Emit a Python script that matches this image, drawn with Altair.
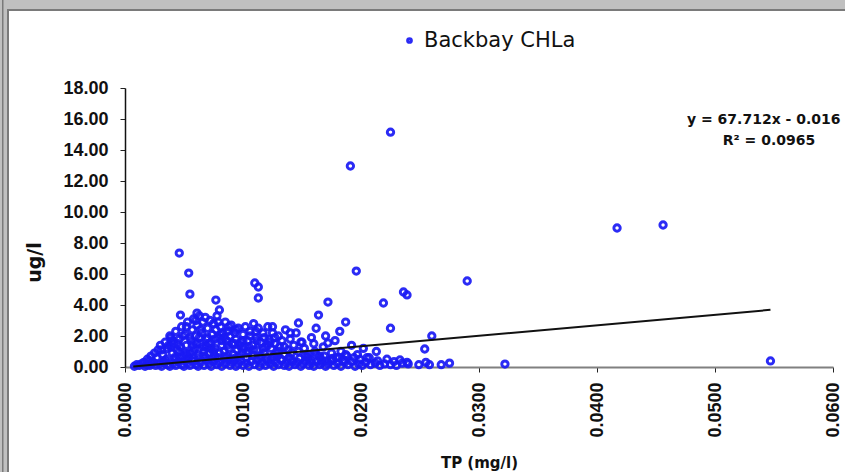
import altair as alt
import pandas as pd

series_name = "Backbay CHLa"

# Low readings lying along the x axis (TP mg/l, CHLa ug/l)
tp_band = [0.0008, 0.0010, 0.0012, 0.0014, 0.0017, 0.0019, 0.0021, 0.0023, 0.0026, 0.0029,
           0.0031, 0.0033, 0.0036, 0.0038, 0.0041, 0.0043, 0.0045, 0.0048, 0.0050, 0.0053,
           0.0055, 0.0057, 0.0060, 0.0062, 0.0064, 0.0067, 0.0069, 0.0071, 0.0073, 0.0075,
           0.0078, 0.0080, 0.0082, 0.0085, 0.0087, 0.0089, 0.0091, 0.0094, 0.0096, 0.0098,
           0.0100, 0.0103, 0.0105, 0.0107, 0.0110, 0.0112, 0.0114, 0.0116, 0.0119, 0.0121,
           0.0123, 0.0126, 0.0128, 0.0130, 0.0133, 0.0135, 0.0137, 0.0139, 0.0142, 0.0144,
           0.0146, 0.0149, 0.0151, 0.0153, 0.0156, 0.0158, 0.0160, 0.0163, 0.0165, 0.0167,
           0.0170, 0.0172, 0.0175, 0.0177, 0.0180, 0.0183, 0.0186, 0.0189, 0.0192, 0.0195,
           0.0198, 0.0201, 0.0204, 0.0208, 0.0212, 0.0216, 0.0220, 0.0225, 0.0230,
           0.0235, 0.0239, 0.0240, 0.0249, 0.0255, 0.0258, 0.0268, 0.0275, 0.0322,
           0.0155, 0.0162, 0.0169, 0.0179, 0.0187, 0.0194, 0.0199, 0.0207, 0.0214, 0.0222,
           0.0228, 0.0233]
chla_band = [0.05, 0.15, 0.10, 0.20, 0.05, 0.15, 0.10, 0.25, 0.10, 0.20,
             0.05, 0.30, 0.15, 0.05, 0.25, 0.10, 0.35, 0.15, 0.05, 0.25,
             0.10, 0.40, 0.15, 0.05, 0.30, 0.10, 0.45, 0.20, 0.05, 0.35,
             0.15, 0.30, 0.05, 0.20, 0.45, 0.10, 0.30, 0.05, 0.20, 0.40,
             0.10, 0.25, 0.05, 0.35, 0.15, 0.45, 0.05, 0.25, 0.10, 0.40,
             0.20, 0.05, 0.30, 0.15, 0.45, 0.10, 0.25, 0.05, 0.35, 0.15,
             0.30, 0.05, 0.20, 0.40, 0.10, 0.25, 0.05, 0.35, 0.15, 0.30,
             0.05, 0.20, 0.40, 0.10, 0.25, 0.05, 0.30, 0.15, 0.35, 0.05,
             0.20, 0.10, 0.30, 0.15, 0.25, 0.10, 0.20, 0.15, 0.10,
             0.25, 0.30, 0.20, 0.15, 0.30, 0.15, 0.15, 0.25, 0.19,
             0.60, 0.80, 0.70, 0.60, 0.80, 0.60, 0.50, 0.60, 0.40, 0.50,
             0.35, 0.45]

# Main cloud of moderate readings
tp_cloud = [0.0016, 0.0019, 0.0022, 0.0025, 0.0028, 0.0021, 0.0030, 0.0027, 0.0024,
            0.0032, 0.0034, 0.0036, 0.0038, 0.0040, 0.0041, 0.0043, 0.0044, 0.0046, 0.0048,
            0.0049, 0.0035, 0.0042, 0.0047, 0.0039,
            0.0051, 0.0052, 0.0053, 0.0055, 0.0056, 0.0057, 0.0058, 0.0059, 0.0060, 0.0061,
            0.0062, 0.0063, 0.0064, 0.0065, 0.0066, 0.0067, 0.0068, 0.0069, 0.0054, 0.0058,
            0.0063, 0.0066, 0.0052, 0.0060,
            0.0070, 0.0071, 0.0072, 0.0073, 0.0074, 0.0075, 0.0076, 0.0077, 0.0078, 0.0079,
            0.0080, 0.0081, 0.0082, 0.0083, 0.0084, 0.0085, 0.0086, 0.0087, 0.0088, 0.0089,
            0.0071, 0.0076, 0.0084,
            0.0090, 0.0091, 0.0092, 0.0093, 0.0094, 0.0095, 0.0096, 0.0098, 0.0099, 0.0100,
            0.0101, 0.0102, 0.0104, 0.0105, 0.0106, 0.0108, 0.0109, 0.0111, 0.0112, 0.0113,
            0.0115, 0.0117, 0.0118, 0.0119,
            0.0121, 0.0122, 0.0124, 0.0125, 0.0127, 0.0128, 0.0130, 0.0131, 0.0133, 0.0135,
            0.0136, 0.0138, 0.0140, 0.0141, 0.0143, 0.0145, 0.0147, 0.0149,
            0.0152, 0.0155, 0.0158, 0.0161, 0.0165, 0.0168, 0.0170, 0.0175, 0.0178, 0.0183,
            0.0188, 0.0192, 0.0197, 0.0205, 0.0213,
            0.0046, 0.0052, 0.0068, 0.0074, 0.0079, 0.0086, 0.0093, 0.0097, 0.0103, 0.0108,
            0.0114, 0.0120, 0.0126, 0.0132, 0.0139, 0.0148, 0.0157, 0.0166, 0.0176, 0.0185]
chla_cloud = [0.3, 0.5, 0.7, 0.9, 1.1, 0.4, 1.4, 0.6, 0.3,
              0.8, 1.6, 1.2, 2.0, 0.9, 1.5, 2.3, 1.1, 1.8, 2.6,
              0.7, 0.5, 0.6, 1.3, 1.9,
              2.1, 1.4, 2.9, 0.9, 1.7, 2.4, 3.1, 1.2, 2.0, 2.7,
              0.8, 3.3, 1.5, 2.2, 2.9, 1.0, 3.2, 1.8, 0.6, 1.0,
              0.6, 1.3, 2.6, 3.0,
              2.5, 0.9, 3.0, 1.6, 2.1, 2.8, 1.2, 2.4, 3.3, 1.9,
              0.9, 2.6, 1.4, 2.2, 1.0, 2.9, 1.7, 2.3, 1.2, 2.0,
              1.5, 0.7, 1.9,
              2.7, 1.5, 0.8, 2.2, 1.8, 1.1, 2.5, 1.6, 0.9, 2.1,
              1.3, 2.6, 1.7, 1.0, 2.3, 1.4, 2.8, 1.9, 1.1, 2.5,
              1.6, 2.2, 0.9, 1.3,
              2.6, 1.8, 1.2, 2.2, 1.5, 0.9, 2.0, 1.3, 1.7, 0.8,
              2.4, 1.1, 1.8, 0.9, 1.4, 2.2, 1.0, 1.6,
              1.2, 0.8, 1.9, 1.0, 0.7, 1.3, 2.0, 0.9, 1.7, 1.0,
              0.7, 1.4, 0.8, 0.6, 1.0,
              0.6, 0.45, 0.65, 0.55, 0.6, 0.7, 0.55, 0.65, 0.6, 0.75,
              0.55, 0.6, 0.7, 0.5, 0.6, 0.55, 0.45, 0.5, 0.55, 0.45]

# Further readings filling the core of the cloud
tp_core = [0.0031, 0.0034, 0.0037, 0.0040, 0.0043, 0.0046, 0.0049, 0.0052, 0.0055, 0.0058,
           0.0061, 0.0064, 0.0067, 0.0070, 0.0073, 0.0076, 0.0079, 0.0082, 0.0085, 0.0088,
           0.0091, 0.0094, 0.0097, 0.0100, 0.0103, 0.0106, 0.0109, 0.0112, 0.0115, 0.0118,
           0.0121, 0.0124, 0.0127, 0.0130,
           0.0033, 0.0039, 0.0045, 0.0051, 0.0057, 0.0063, 0.0069, 0.0075, 0.0081, 0.0087,
           0.0093, 0.0099, 0.0105, 0.0111, 0.0117, 0.0123, 0.0129, 0.0135, 0.0141, 0.0153,
           0.0160, 0.0171, 0.0181]
chla_core = [1.1, 0.4, 1.4, 1.7, 0.5, 1.0, 2.0, 0.8, 1.9, 0.4,
             1.5, 2.4, 0.7, 1.9, 1.2, 1.8, 2.9, 1.7, 0.6, 2.6,
             0.5, 2.4, 1.4, 1.7, 0.9, 2.0, 1.1, 1.7, 0.7, 1.9,
             1.4, 0.5, 1.9, 1.0,
             0.3, 1.3, 1.5, 0.9, 1.4, 1.9, 1.3, 1.0, 2.1, 1.4,
             1.5, 1.2, 1.3, 2.3, 1.2, 1.6, 0.7, 1.3, 0.5, 0.7,
             1.5, 0.4, 0.6]

# Scattered high readings
tp_high = [0.0225, 0.0191, 0.0417, 0.0456, 0.0547, 0.0290, 0.0236, 0.0239, 0.0260, 0.0254,
           0.0196, 0.0219, 0.0172, 0.0164, 0.0187, 0.0147, 0.0162, 0.0182, 0.0225, 0.0172,
           0.0202, 0.0046, 0.0054, 0.0055, 0.0047, 0.0077, 0.0080, 0.0110, 0.0113, 0.0113,
           0.0061, 0.0150, 0.0140, 0.0125]
chla_high = [15.15, 12.97, 8.97, 9.16, 0.39, 5.55, 4.84, 4.65, 2.00, 1.16,
             6.19, 4.13, 4.19, 3.35, 2.90, 2.84, 2.50, 2.30, 2.50, 1.55,
             1.20, 7.35, 6.06, 4.70, 3.35, 4.32, 3.68, 5.42, 5.16, 4.45,
             3.48, 1.60, 2.20, 2.60]

# Linear trend as printed on the chart
slope = 67.712
intercept = -0.016
r_squared = 0.0965
trend_tp = [0.0007, 0.0547]

x_ticks = [0.0, 0.01, 0.02, 0.03, 0.04, 0.05, 0.06]
y_ticks = [0, 2, 4, 6, 8, 10, 12, 14, 16, 18]

points = pd.DataFrame({
    "tp": tp_band + tp_cloud + tp_core + tp_high,
    "chla": chla_band + chla_cloud + chla_core + chla_high,
})
points["series"] = series_name

trend = pd.DataFrame({"tp": trend_tp})
trend["chla"] = slope * trend["tp"] + intercept

eq_labels = [f"y = {slope}x - {abs(intercept)}", f"R² = {r_squared}"]

BLUE = "#1a1af5"
GREY = "#c0c0c0"
DARK = "#7a7a7a"

x_scale = alt.Scale(domain=[0, 0.06], nice=False, zero=True)
y_scale = alt.Scale(domain=[0, 18], nice=False)

x_axis = alt.Axis(values=x_ticks, format=".4f", labelAngle=270,
                  labelPadding=10, tickSize=5, domainColor="#808080",
                  domainWidth=2, tickColor="#222222", labelOverlap=False,
                  titleY=95, titleBaseline="middle", titleFontSize=15)
y_axis = alt.Axis(values=y_ticks, format=".2f", labelPadding=12,
                  tickSize=5, domainColor="#111111", domainWidth=1.5,
                  tickColor="#222222", labelOverlap=False,
                  titleAngle=-90, titleX=-91, titleY=174,
                  titleAlign="center", titleBaseline="middle",
                  titleFontSize=19)

one = pd.DataFrame({"k": [0]})

# Window frame around the chart area
frame = alt.layer(
    alt.Chart(one).mark_rect(color=GREY).encode(
        x=alt.value(-125), x2=alt.value(720), y=alt.value(-88), y2=alt.value(-77)),
    alt.Chart(one).mark_rect(color=GREY).encode(
        x=alt.value(-125), x2=alt.value(-116), y=alt.value(-88), y2=alt.value(384)),
    alt.Chart(one).mark_rect(color=DARK).encode(
        x=alt.value(-118), x2=alt.value(720), y=alt.value(-79), y2=alt.value(-77)),
    alt.Chart(one).mark_rect(color=DARK).encode(
        x=alt.value(-118), x2=alt.value(-116), y=alt.value(-79), y2=alt.value(384)),
    alt.Chart(one).mark_rect(color=DARK).encode(
        x=alt.value(-123), x2=alt.value(-121.5), y=alt.value(-88), y2=alt.value(384)),
)

scatter = alt.Chart(points).mark_point(
    shape="circle", filled=False, strokeWidth=3, size=40, opacity=0.92
).encode(
    x=alt.X("tp:Q", scale=x_scale, title="TP (mg/l)", axis=x_axis),
    y=alt.Y("chla:Q", scale=y_scale, title="ug/l", axis=y_axis),
    color=alt.Color("series:N",
                    scale=alt.Scale(domain=[series_name], range=[BLUE]),
                    legend=alt.Legend(title=None, orient="none", legendX=274, legendY=-58,
                                      symbolType="circle", symbolSize=14,
                                      symbolStrokeColor=BLUE, symbolStrokeWidth=3,
                                      labelFont="DejaVu Sans", labelFontSize=21,
                                      labelColor="#111111", labelOffset=4, padding=0)),
)

trend_line = alt.Chart(trend).mark_line(color="#111111", strokeWidth=2).encode(
    x=alt.X("tp:Q", scale=x_scale, title="TP (mg/l)", axis=x_axis),
    y=alt.Y("chla:Q", scale=y_scale, title="ug/l", axis=y_axis),
)

eq_line1 = alt.Chart(pd.DataFrame({"label": [eq_labels[0]]})).mark_text(
    font="DejaVu Sans", fontWeight="bold", fontSize=14, color="#111111",
    baseline="middle", align="left"
).encode(x=alt.value(562), y=alt.value(32), text="label:N")

eq_line2 = alt.Chart(pd.DataFrame({"label": [eq_labels[1]]})).mark_text(
    font="DejaVu Sans", fontWeight="bold", fontSize=14, color="#111111",
    baseline="middle", align="center"
).encode(x=alt.value(644), y=alt.value(53), text="label:N")

chart = alt.layer(frame, scatter, trend_line, eq_line1, eq_line2).properties(
    width=708, height=279,
    padding={"left": 125, "top": 88, "right": 12, "bottom": 105},
    autosize=alt.AutoSizeParams(type="none"),
    background="white",
).configure_axis(
    grid=False, labelOverlap=False,
    labelFont="Liberation Sans", labelFontWeight="bold", labelFontSize=18,
    labelColor="#111111",
    titleFont="DejaVu Sans", titleFontWeight="bold", titleColor="#111111",
).configure_view(strokeWidth=0)

chart.save("out.html", embed_options={"renderer": "svg", "actions": False})
